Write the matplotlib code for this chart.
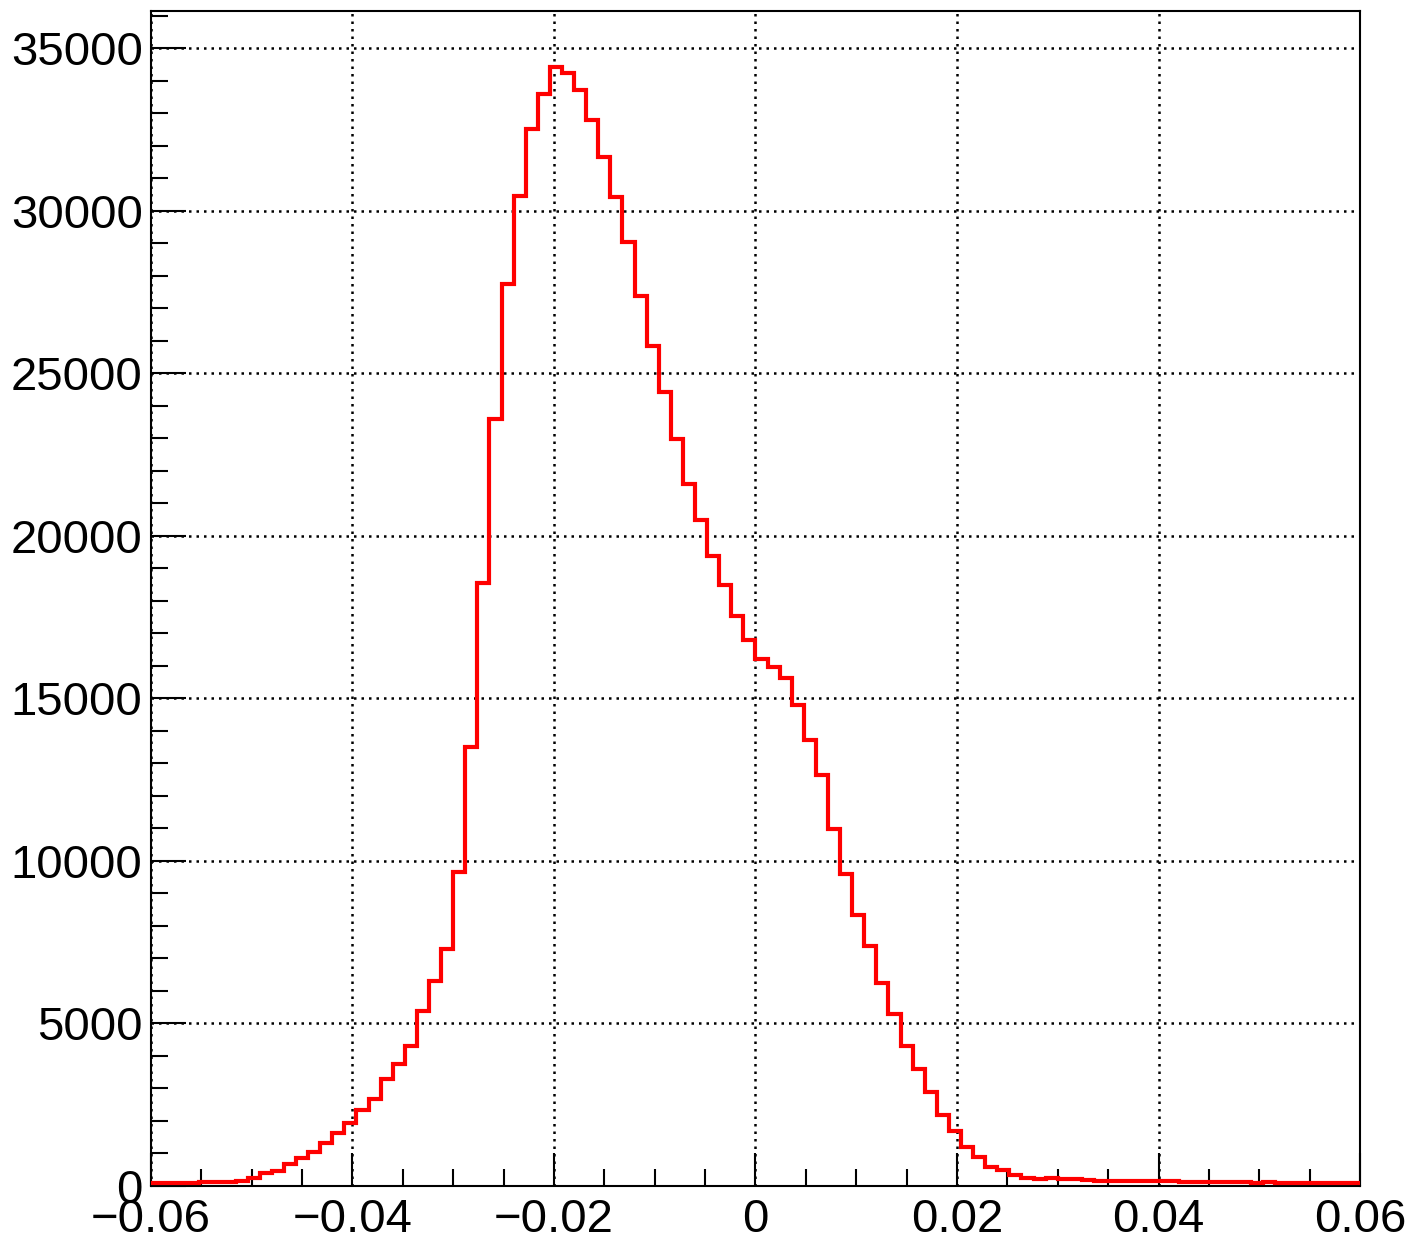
import numpy as np
import matplotlib
matplotlib.use("Agg")
import matplotlib.pyplot as plt
from matplotlib.ticker import MultipleLocator

plt.rcParams['font.family'] = ['Liberation Sans', 'DejaVu Sans']

# histogram range and bin contents (100 bins)
x_min, x_max, n_bins = -0.06, 0.06, 100
counts = [
    90, 95, 100, 105, 115, 120, 125, 160, 250, 390,
    470, 680, 850, 1060, 1310, 1620, 1935, 2350, 2680, 3285,
    3760, 4320, 5375, 6300, 7290, 9670, 13500, 18540, 23580, 27730,
    30440, 32510, 33590, 34420, 34240, 33720, 32800, 31650, 30420, 29030,
    27370, 25850, 24430, 22990, 21600, 20480, 19390, 18500, 17540, 16800,
    16200, 15970, 15630, 14780, 13720, 12645, 10975, 9595, 8335, 7385,
    6233, 5292, 4311, 3588, 2887, 2186, 1690, 1210, 896, 596,
    492, 338, 256, 215, 256, 205, 225, 185, 160, 150,
    155, 145, 150, 140, 145, 135, 120, 115, 110, 115,
    110, 105, 110, 100, 105, 100, 95, 90, 85, 80,
]
x_ticks = [-0.06, -0.04, -0.02, 0, 0.02, 0.04, 0.06]
x_labels = ['\u22120.06', '\u22120.04', '\u22120.02', '0', '0.02', '0.04', '0.06']
y_ticks = [0, 5000, 10000, 15000, 20000, 25000, 30000, 35000]
y_labels = ['0', '5000', '10000', '15000', '20000', '25000', '30000', '35000']

edges = np.linspace(x_min, x_max, n_bins + 1)

fig = plt.figure(figsize=(14.12, 12.45), dpi=100)
ax = fig.add_axes([0.1069, 0.0474, 0.8563, 0.9438])

ax.stairs(counts, edges, color='red', lw=3, baseline=None, zorder=3)

ax.set_xlim(x_min, x_max)
ax.set_ylim(0, 1.05 * max(counts))

ax.set_xticks(x_ticks)
ax.set_xticklabels(x_labels)
ax.set_yticks(y_ticks)
ax.set_yticklabels(y_labels)
ax.xaxis.set_minor_locator(MultipleLocator(0.005))
ax.yaxis.set_minor_locator(MultipleLocator(1000))

ax.tick_params(which='both', direction='in', width=1.5, labelsize=34, colors='black')
ax.tick_params(axis='y', which='major', length=25, pad=6)
ax.tick_params(axis='y', which='minor', length=12)
ax.tick_params(axis='x', which='major', length=24, pad=9)
ax.tick_params(axis='x', which='minor', length=12)

ax.grid(True, which='major', color='black', linestyle=(0, (1, 2)), lw=1.8)

for sp in ax.spines.values():
    sp.set_linewidth(1.5)

fig.savefig('out.png', dpi=100)
